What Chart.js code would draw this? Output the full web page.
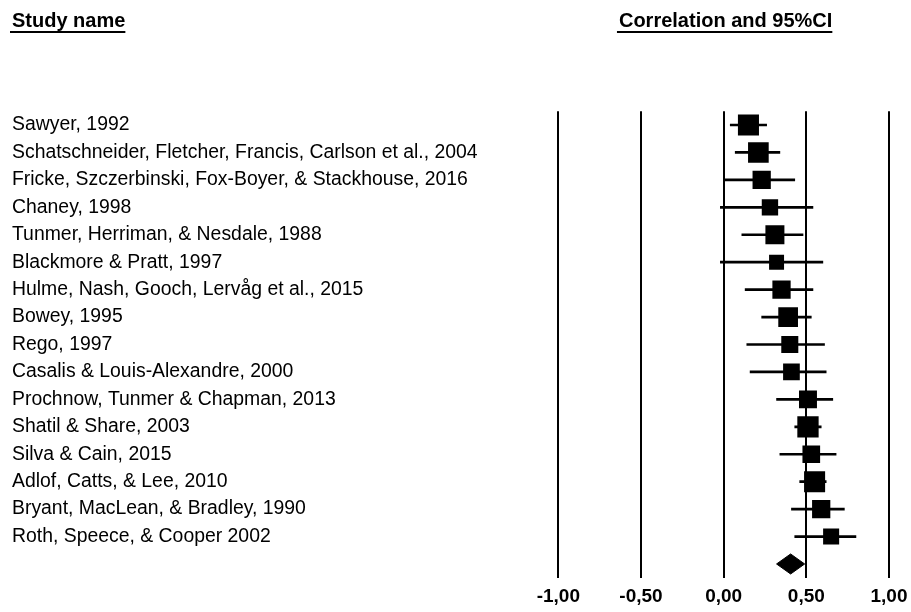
<!DOCTYPE html>
<html>
<head>
<meta charset="utf-8">
<script src="https://cdn.jsdelivr.net/npm/chart.js@4.4.0/dist/chart.umd.min.js"></script>
<style>
  html, body { margin: 0; padding: 0; background: #fff; }
  #wrap { width: 911px; height: 612px; }
</style>
</head>
<body>
<div id="wrap"><canvas id="forestChart"></canvas></div>
<script>
const studies = [
  "Sawyer, 1992",
  "Schatschneider, Fletcher, Francis, Carlson et al., 2004",
  "Fricke, Szczerbinski, Fox-Boyer, & Stackhouse, 2016",
  "Chaney, 1998",
  "Tunmer, Herriman, & Nesdale, 1988",
  "Blackmore & Pratt, 1997",
  "Hulme, Nash, Gooch, Lervåg et al., 2015",
  "Bowey, 1995",
  "Rego, 1997",
  "Casalis & Louis-Alexandre, 2000",
  "Prochnow, Tunmer & Chapman, 2013",
  "Shatil & Share, 2003",
  "Silva & Cain, 2015",
  "Adlof, Catts, & Lee, 2010",
  "Bryant, MacLean, & Bradley, 1990",
  "Roth, Speece, & Cooper 2002"
];
const correlation = [0.15, 0.21, 0.23, 0.28, 0.31, 0.32, 0.35, 0.39, 0.40, 0.41, 0.51, 0.51, 0.53, 0.55, 0.59, 0.65];
const lowerCI = [0.04, 0.07, 0.01, -0.02, 0.11, -0.02, 0.13, 0.23, 0.14, 0.16, 0.32, 0.43, 0.34, 0.46, 0.41, 0.43];
const upperCI = [0.26, 0.34, 0.43, 0.54, 0.48, 0.60, 0.54, 0.53, 0.61, 0.62, 0.66, 0.59, 0.68, 0.62, 0.73, 0.80];
// relative weight (%) of each study, drives the square size
const weights = [8.1, 7.8, 6.1, 4.9, 6.6, 4.1, 6.1, 7.1, 5.3, 5.1, 5.9, 8.3, 5.7, 8.1, 6.1, 4.7];
const summaryEstimate = 0.405;
const summaryLower = 0.32;
const summaryUpper = 0.49;
const xTicks = [-1, -0.5, 0, 0.5, 1];

const FONT = "'Liberation Sans', Arial, sans-serif";
Chart.defaults.font.family = FONT;
Chart.defaults.color = "#000";

const summaryRow = studies.length;
const diamondHalf = 0.365;

function squareRadius(w) {
  const side = Math.sqrt(w * 54.7);
  return side / (2 * Math.SQRT1_2);
}

const headers = {
  id: "headers",
  afterDraw(chart) {
    const ctx = chart.ctx;
    const area = chart.chartArea;
    ctx.save();
    ctx.font = "bold 20px " + FONT;
    ctx.fillStyle = "#000";
    ctx.strokeStyle = "#000";
    ctx.lineWidth = 2;
    ctx.textBaseline = "alphabetic";

    function underlined(text, x, y) {
      const w = ctx.measureText(text).width;
      ctx.fillText(text, x, y);
      ctx.beginPath();
      ctx.moveTo(x - 2, y + 5);
      ctx.lineTo(x + w, y + 5);
      ctx.stroke();
    }

    underlined("Study name", 12, 27);
    const title = "Correlation and 95%CI";
    const tw = ctx.measureText(title).width;
    underlined(title, (area.left + area.right) / 2 - tw / 2 + 2, 27);
    ctx.restore();
  }
};

const ctx = document.getElementById("forestChart");

new Chart(ctx, {
  type: "scatter",
  data: {
    datasets: [
      {
        label: "Correlation",
        data: studies.map((s, i) => ({ x: correlation[i], y: i })),
        pointStyle: "rect",
        pointRadius: weights.map(squareRadius),
        pointHoverRadius: weights.map(squareRadius),
        backgroundColor: "#000",
        borderWidth: 0,
        order: 0,
      },
      {
        type: "bar",
        label: "95% CI",
        indexAxis: "y",
        data: studies.map((s, i) => ({ x: [lowerCI[i], upperCI[i]], y: i })),
        barThickness: 2,
        backgroundColor: "#000",
        borderWidth: 0,
        order: 1,
      },
      {
        type: "line",
        label: "Summary",
        data: [
          { x: summaryLower, y: summaryRow },
          { x: summaryEstimate, y: summaryRow - diamondHalf },
          { x: summaryUpper, y: summaryRow },
          { x: summaryEstimate, y: summaryRow + diamondHalf },
          { x: summaryLower, y: summaryRow },
        ],
        showLine: true,
        fill: "shape",
        tension: 0,
        backgroundColor: "#000",
        borderColor: "#000",
        borderWidth: 1,
        pointRadius: 0,
        order: 2,
      },
    ],
  },
  plugins: [headers],
  options: {
    responsive: true,
    maintainAspectRatio: false,
    animation: false,
    events: [],
    layout: {
      padding: { left: 12, right: 22, top: 111.3, bottom: 0 },
    },
    scales: {
      x: {
        type: "linear",
        position: "bottom",
        bounds: "data",
        offset: false,
        min: -1,
        max: 1,
        afterBuildTicks: (axis) => {
          axis.ticks = xTicks.map((v) => ({ value: v }));
          axis.min = -1;
          axis.max = 1;
        },
        afterFit: (axis) => {
          axis.height = 34.3;
          axis.paddingLeft = 0;
          axis.paddingRight = 0;
        },
        grid: {
          color: "#000",
          lineWidth: 2,
          drawTicks: false,
          offset: false,
        },
        border: { display: false },
        ticks: {
          padding: 8,
          font: { size: 19, weight: "bold" },
          callback: (v) => Number(v).toFixed(2).replace(".", ","),
        },
      },
      y: {
        type: "linear",
        position: "left",
        reverse: true,
        bounds: "data",
        offset: false,
        min: -0.5,
        max: studies.length + 0.5,
        afterBuildTicks: (axis) => {
          axis.ticks = studies.map((s, i) => ({ value: i }));
          axis.min = -0.5;
          axis.max = studies.length + 0.5;
        },
        afterFit: (axis) => {
          axis.width = 546.3;
          axis.paddingTop = 0;
          axis.paddingBottom = 0;
        },
        grid: { display: false, offset: false },
        border: { display: false },
        ticks: {
          autoSkip: false,
          crossAlign: "far",
          padding: 0,
          font: { size: 19.4 },
          callback: (v) => studies[v],
        },
      },
    },
    plugins: {
      legend: { display: false },
      tooltip: { enabled: false },
    },
  },
});
</script>
</body>
</html>
